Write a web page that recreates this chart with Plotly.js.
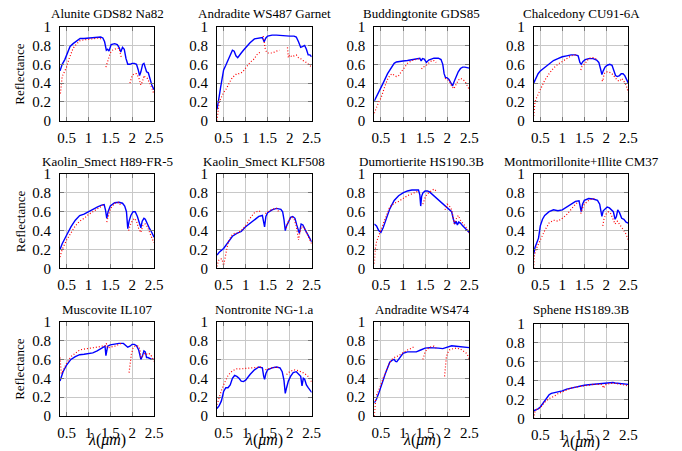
<!DOCTYPE html>
<html><head><meta charset="utf-8">
<script src="https://cdn.plot.ly/plotly-3.0.1.min.js"></script>
<style>html,body{margin:0;padding:0;background:#fff}#plot{width:682px;height:451px}</style>
</head><body>
<div id="plot"></div>
<script>
// ---------- DATA ----------
const titles = ["Alunite GDS82 Na82","Andradite WS487 Garnet","Buddingtonite GDS85","Chalcedony CU91-6A",
  "Kaolin_Smect H89-FR-5","Kaolin_Smect KLF508","Dumortierite HS190.3B","Montmorillonite+Illite CM37",
  "Muscovite IL107","Nontronite NG-1.a","Andradite WS474","Sphene HS189.3B"];
const xTickVals = [0.5,1,1.5,2,2.5];
const xTickText = ["0.5","1","1.5","2","2.5"];
const yTickVals = [0,0.2,0.4,0.6,0.8,1];
const yTickText = ["0","0.2","0.4","0.6","0.8","1"];

// Alunite
const aluBx = [0.35,0.4,0.46,0.52,0.58,0.65,0.73,0.81,0.9,1.0,1.1,1.2,1.28,1.33,1.37,1.41,1.44,1.47,1.52,1.6,1.66,1.7,1.74,1.78,1.82,1.86,1.9,1.95,2.0,2.05,2.1,2.14,2.17,2.2,2.24,2.27,2.3,2.33,2.37,2.4,2.45,2.5];
const aluBy = [0.53,0.6,0.65,0.72,0.79,0.82,0.85,0.875,0.875,0.88,0.885,0.89,0.89,0.88,0.84,0.75,0.76,0.74,0.81,0.82,0.81,0.78,0.73,0.78,0.76,0.66,0.6,0.6,0.61,0.61,0.6,0.54,0.48,0.52,0.6,0.61,0.56,0.52,0.51,0.45,0.38,0.33];
const aluRx = [0.36,0.38,0.4,0.45,0.5,0.55,0.6,0.65,0.7,0.8,0.9,1.0,1.1,1.2,1.25,1.3,1.35,1.4,1.42,1.45,1.5,1.55,1.6,1.65,1.7,1.73,1.76,1.85,1.95,2.0,2.05,2.1,2.15,2.2,2.24,2.27,2.3,2.35,2.4,2.45,2.5];
const aluRy = [0.29,0.4,0.47,0.52,0.57,0.65,0.72,0.77,0.8,0.85,0.86,0.865,0.87,0.875,0.88,0.865,null,0.57,0.6,0.62,0.72,0.75,0.76,0.77,0.77,0.72,0.66,null,0.4,0.48,0.5,0.5,0.46,0.38,0.42,0.48,0.46,0.45,0.4,0.35,0.28];
// Andradite WS487
const an1Bx = [0.35,0.37,0.4,0.43,0.47,0.5,0.55,0.6,0.65,0.7,0.74,0.78,0.82,0.86,0.9,0.95,1.0,1.1,1.2,1.3,1.38,1.42,1.46,1.5,1.6,1.7,1.8,1.9,2.0,2.1,2.15,2.2,2.25,2.3,2.34,2.38,2.42,2.46,2.5];
const an1By = [0.12,0.2,0.26,0.35,0.45,0.54,0.59,0.64,0.7,0.75,0.74,0.69,0.67,0.69,0.72,0.75,0.78,0.83,0.87,0.88,0.885,0.84,0.88,0.9,0.91,0.91,0.905,0.9,0.9,0.9,0.89,0.84,0.78,0.79,0.8,0.76,0.7,0.7,0.68];
const an1Rx = [0.35,0.37,0.4,0.45,0.5,0.55,0.6,0.65,0.7,0.75,0.8,0.85,0.9,0.95,1.0,1.05,1.1,1.15,1.2,1.25,1.3,1.33,1.36,1.4,1.42,1.45,1.5,1.6,1.7,1.77,1.85,1.95,1.97,2.0,2.05,2.1,2.15,2.2,2.25,2.3,2.35,2.4,2.45,2.5];
const an1Ry = [0.0,0.12,0.2,0.25,0.3,0.33,0.38,0.42,0.46,0.48,0.5,0.5,0.51,0.53,0.56,0.6,0.62,0.64,0.66,0.7,0.72,0.73,null,0.9,0.85,0.75,0.72,0.72,0.74,0.75,null,0.78,0.67,0.7,0.68,0.69,0.7,0.67,0.66,0.64,0.63,0.61,0.59,0.57];
// Buddingtonite
const budBx = [0.35,0.45,0.55,0.65,0.75,0.8,0.85,0.9,1.0,1.1,1.2,1.3,1.38,1.41,1.44,1.48,1.53,1.58,1.65,1.7,1.8,1.86,1.9,1.93,1.96,2.0,2.04,2.08,2.12,2.16,2.2,2.25,2.3,2.35,2.4,2.45,2.5];
const budBy = [0.21,0.3,0.4,0.5,0.58,0.61,0.625,0.63,0.635,0.64,0.65,0.655,0.665,0.635,0.66,0.655,0.62,0.645,0.655,0.665,0.665,0.65,0.6,0.5,0.46,0.455,0.44,0.4,0.37,0.42,0.47,0.52,0.555,0.57,0.57,0.565,0.56];
const budRx = [0.35,0.4,0.45,0.5,0.55,0.6,0.65,0.7,0.75,0.8,0.85,0.9,1.0,1.1,1.2,1.3,1.37,1.39,1.42,1.45,1.5,1.55,1.6,1.65,1.7,1.75,1.85,1.95,2.0,2.05,2.1,2.15,2.2,2.25,2.3,2.35,2.4,2.45,2.5];
const budRy = [0.08,0.15,0.2,0.24,0.32,0.38,0.44,0.48,0.5,0.48,0.47,0.48,0.55,0.61,0.64,0.655,0.66,null,0.55,0.57,0.58,0.6,0.62,0.64,0.64,0.62,null,0.45,0.44,0.42,0.37,0.34,0.39,0.43,0.45,0.44,0.42,0.38,0.33];
// Chalcedony
const chaBx = [0.35,0.4,0.45,0.5,0.6,0.7,0.8,0.9,1.0,1.1,1.2,1.3,1.36,1.4,1.43,1.47,1.52,1.6,1.7,1.78,1.83,1.87,1.9,1.93,1.97,2.02,2.08,2.13,2.17,2.21,2.25,2.3,2.34,2.38,2.42,2.46,2.5];
const chaBy = [0.4,0.46,0.5,0.53,0.57,0.6,0.64,0.66,0.68,0.69,0.7,0.7,0.69,0.62,0.6,0.63,0.65,0.66,0.66,0.645,0.62,0.55,0.49,0.53,0.57,0.59,0.6,0.59,0.53,0.48,0.47,0.48,0.5,0.5,0.48,0.44,0.4];
const chaRx = [0.35,0.36,0.38,0.42,0.46,0.5,0.55,0.6,0.7,0.8,0.9,1.0,1.1,1.2,1.3,1.35,1.38,1.42,1.45,1.5,1.55,1.6,1.65,1.7,1.75,1.8,1.85,1.9,1.92,1.95,2.0,2.05,2.1,2.15,2.2,2.25,2.3,2.35,2.4,2.45,2.5];
const chaRy = [0.05,0.15,0.2,0.25,0.3,0.33,0.38,0.43,0.5,0.56,0.6,0.63,0.66,0.69,0.7,0.7,null,0.54,0.58,0.6,0.63,0.66,0.67,0.67,0.66,0.65,null,0.43,0.42,0.5,0.52,0.52,0.51,0.49,0.46,0.43,0.42,0.45,0.42,0.38,0.3];
// Kaolin_Smect H89-FR-5
const kahBx = [0.35,0.4,0.5,0.6,0.7,0.8,0.9,1.0,1.1,1.2,1.3,1.36,1.39,1.42,1.45,1.5,1.6,1.7,1.78,1.83,1.87,1.9,1.93,1.97,2.02,2.07,2.12,2.16,2.2,2.23,2.27,2.3,2.35,2.4,2.45,2.5];
const kahBy = [0.2,0.26,0.35,0.44,0.51,0.56,0.575,0.6,0.63,0.65,0.67,0.675,0.62,0.53,0.6,0.66,0.695,0.7,0.69,0.66,0.6,0.42,0.5,0.56,0.6,0.6,0.55,0.5,0.43,0.5,0.53,0.52,0.46,0.42,0.38,0.33];
const kahRx = [0.35,0.4,0.5,0.6,0.7,0.8,0.9,1.0,1.1,1.2,1.3,1.34,1.38,1.42,1.45,1.5,1.6,1.7,1.75,1.8,1.92,1.95,2.0,2.05,2.1,2.15,2.2,2.25,2.3,2.35,2.4,2.45,2.5];
const kahRy = [0.12,0.2,0.3,0.38,0.45,0.5,0.53,0.57,0.6,0.63,0.66,0.67,null,0.49,0.55,0.63,0.69,0.7,0.66,null,0.4,0.45,0.5,0.53,0.5,0.42,0.38,0.46,0.47,0.44,0.38,0.33,0.27];
// Kaolin_Smect KLF508
const kakBx = [0.35,0.4,0.5,0.6,0.7,0.8,0.9,1.0,1.1,1.2,1.3,1.38,1.41,1.43,1.46,1.5,1.6,1.7,1.8,1.84,1.87,1.9,1.93,1.97,2.02,2.07,2.12,2.16,2.19,2.22,2.26,2.3,2.35,2.4,2.45,2.5];
const kakBy = [0.14,0.17,0.21,0.27,0.34,0.37,0.39,0.44,0.48,0.52,0.55,0.56,0.5,0.44,0.55,0.59,0.62,0.635,0.625,0.6,0.52,0.4,0.45,0.5,0.54,0.55,0.53,0.46,0.4,0.37,0.47,0.46,0.41,0.37,0.33,0.28];
const kakRx = [0.35,0.38,0.42,0.46,0.5,0.53,0.56,0.6,0.65,0.7,0.75,0.8,0.9,1.0,1.1,1.2,1.25,1.3,1.34,1.4,1.45,1.5,1.6,1.7,1.75,1.8,1.92,1.95,2.0,2.05,2.1,2.15,2.2,2.23,2.27,2.3,2.35,2.4,2.45,2.5];
const kakRy = [0.02,0.08,0.1,0.1,0.03,0.1,0.18,0.27,0.32,0.36,0.37,0.37,0.4,0.45,0.53,0.59,0.6,0.61,0.6,null,0.58,0.6,0.625,0.635,0.6,null,0.43,0.48,0.52,0.54,0.52,0.45,0.3,0.38,0.44,0.44,0.41,0.36,0.31,0.26];
// Dumortierite
const dumBx = [0.35,0.4,0.45,0.5,0.55,0.6,0.65,0.7,0.8,0.9,1.0,1.1,1.2,1.3,1.35,1.38,1.4,1.42,1.45,1.5,1.55,1.6,1.7,1.8,1.9,2.0,2.05,2.1,2.14,2.17,2.2,2.23,2.26,2.3,2.35,2.4,2.45,2.5];
const dumBy = [0.47,0.45,0.4,0.38,0.43,0.5,0.57,0.63,0.72,0.77,0.8,0.82,0.83,0.835,0.83,0.78,0.66,0.76,0.8,0.82,0.82,0.81,0.77,0.73,0.68,0.65,0.63,0.6,0.52,0.47,0.5,0.46,0.49,0.48,0.45,0.43,0.41,0.38];
const dumRx = [0.35,0.37,0.4,0.45,0.5,0.55,0.6,0.65,0.7,0.8,0.9,1.0,1.1,1.2,1.3,1.35,1.4,1.45,1.5,1.55,1.6,1.65,1.7,1.75,1.8,1.95,2.0,2.05,2.1,2.13,2.16,2.2,2.25,2.3,2.35,2.4,2.45,2.5];
const dumRy = [0.05,0.2,0.28,0.35,0.4,0.47,0.53,0.6,0.65,0.69,0.71,0.74,0.77,0.79,0.81,0.82,null,0.68,0.75,0.79,0.81,0.82,0.84,0.82,null,0.62,0.68,0.66,0.62,0.55,0.47,0.52,0.56,0.51,0.48,0.45,0.42,0.37];
// Montmorillonite+Illite
const monBx = [0.35,0.38,0.42,0.46,0.5,0.55,0.6,0.7,0.8,0.9,1.0,1.1,1.2,1.3,1.38,1.41,1.43,1.46,1.5,1.6,1.7,1.8,1.85,1.88,1.9,1.93,1.97,2.02,2.07,2.12,2.16,2.2,2.23,2.26,2.3,2.35,2.4,2.45,2.5];
const monBy = [0.15,0.22,0.27,0.32,0.45,0.52,0.56,0.6,0.62,0.61,0.62,0.65,0.68,0.71,0.715,0.63,0.6,0.68,0.72,0.74,0.735,0.72,0.68,0.6,0.55,0.61,0.63,0.65,0.64,0.62,0.6,0.52,0.55,0.62,0.59,0.53,0.52,0.49,0.48];
const monRx = [0.35,0.36,0.4,0.45,0.5,0.6,0.7,0.75,0.8,0.9,1.0,1.1,1.2,1.3,1.35,1.38,1.42,1.45,1.5,1.6,1.7,1.75,1.8,1.92,1.95,2.0,2.05,2.1,2.15,2.2,2.25,2.3,2.35,2.4,2.45,2.5];
const monRy = [0.0,0.12,0.2,0.25,0.3,0.4,0.48,0.5,0.51,0.5,0.53,0.57,0.63,0.68,0.7,null,0.58,0.63,0.68,0.72,0.74,0.73,null,0.45,0.53,0.58,0.6,0.58,0.52,0.47,0.5,0.47,0.44,0.4,0.36,0.3];
// Muscovite
const musBx = [0.35,0.38,0.42,0.5,0.6,0.7,0.8,0.9,1.0,1.1,1.2,1.3,1.38,1.4,1.42,1.44,1.5,1.6,1.7,1.8,1.85,1.9,1.95,2.0,2.05,2.1,2.15,2.18,2.2,2.23,2.27,2.3,2.33,2.36,2.4,2.45,2.5];
const musBy = [0.37,0.42,0.47,0.54,0.6,0.63,0.65,0.655,0.66,0.67,0.69,0.72,0.74,0.64,0.7,0.74,0.755,0.765,0.77,0.77,0.75,0.73,0.74,0.76,0.76,0.745,0.7,0.62,0.6,0.63,0.69,0.68,0.62,0.62,0.61,0.6,0.6];
const musRx = [0.35,0.36,0.38,0.42,0.5,0.6,0.7,0.8,0.9,1.0,1.1,1.2,1.3,1.38,1.41,1.44,1.5,1.6,1.7,1.75,1.8,1.93,1.95,1.98,2.02,2.06,2.1,2.15,2.18,2.2,2.25,2.3,2.35,2.4,2.45,2.5];
const musRy = [0.62,0.5,0.45,0.48,0.56,0.63,0.67,0.7,0.71,0.715,0.72,0.73,0.74,0.745,0.77,0.72,0.73,0.74,0.76,0.77,null,0.46,0.55,0.65,0.72,0.74,0.745,0.74,0.7,0.62,0.64,0.67,0.65,0.66,0.63,0.58];
// Nontronite
const nonBx = [0.35,0.4,0.45,0.5,0.55,0.6,0.65,0.7,0.75,0.8,0.85,0.9,0.95,1.0,1.1,1.2,1.3,1.38,1.41,1.43,1.46,1.5,1.6,1.7,1.78,1.83,1.87,1.9,1.93,1.97,2.02,2.08,2.15,2.2,2.25,2.28,2.31,2.34,2.38,2.42,2.46,2.5];
const nonBy = [0.08,0.11,0.16,0.26,0.3,0.3,0.33,0.4,0.43,0.42,0.4,0.37,0.365,0.38,0.44,0.49,0.52,0.51,0.42,0.39,0.45,0.49,0.51,0.52,0.51,0.47,0.38,0.24,0.3,0.37,0.42,0.46,0.47,0.45,0.42,0.32,0.4,0.39,0.33,0.3,0.28,0.25];
const nonRx = [0.35,0.4,0.45,0.5,0.55,0.6,0.7,0.8,0.9,1.0,1.1,1.2,1.3,1.35,1.4,1.45,1.5,1.6,1.7,1.75,1.8,1.93,1.95,2.0,2.1,2.2,2.3,2.4,2.45,2.5];
const nonRy = [0.12,0.2,0.27,0.33,0.38,0.43,0.48,0.5,0.5,0.505,0.51,0.515,0.52,0.52,null,0.49,0.5,0.51,0.52,0.51,null,0.44,0.45,0.47,0.49,0.48,0.46,0.43,0.4,0.36];
// Andradite WS474
const an2Bx = [0.35,0.4,0.45,0.5,0.55,0.6,0.65,0.7,0.75,0.8,0.83,0.86,0.9,0.95,1.0,1.1,1.2,1.3,1.4,1.5,1.6,1.7,1.8,1.9,2.0,2.1,2.2,2.3,2.4,2.5];
const an2By = [0.14,0.18,0.24,0.3,0.38,0.45,0.52,0.57,0.59,0.6,0.58,0.575,0.6,0.64,0.665,0.68,0.68,0.68,0.7,0.72,0.725,0.725,0.72,0.715,0.73,0.745,0.74,0.735,0.73,0.725];
const an2Rx = [0.35,0.36,0.38,0.4,0.45,0.5,0.55,0.6,0.65,0.7,0.75,0.8,0.9,1.0,1.1,1.2,1.25,1.3,1.45,1.5,1.55,1.6,1.7,1.75,1.8,1.94,1.96,1.98,2.0,2.05,2.1,2.2,2.3,2.4,2.45,2.5];
const an2Ry = [0.0,0.1,0.17,0.22,0.27,0.33,0.4,0.46,0.52,0.57,0.6,0.62,0.64,0.67,0.7,0.72,0.735,null,0.6,0.68,0.71,0.73,0.74,0.72,null,0.42,0.55,0.62,0.66,0.7,0.71,0.72,0.71,0.68,0.66,0.6];
// Sphene
const sphBx = [0.35,0.4,0.45,0.5,0.55,0.6,0.65,0.7,0.75,0.8,0.9,1.0,1.1,1.2,1.3,1.4,1.5,1.6,1.7,1.8,1.9,2.0,2.1,2.15,2.2,2.3,2.4,2.5];
const sphBy = [0.08,0.09,0.1,0.12,0.15,0.19,0.22,0.25,0.265,0.27,0.28,0.29,0.31,0.32,0.335,0.34,0.35,0.355,0.36,0.36,0.365,0.37,0.375,0.38,0.375,0.37,0.37,0.36];
const sphRx = [0.35,0.37,0.4,0.45,0.5,0.55,0.6,0.7,0.8,0.9,1.0,1.1,1.2,1.3,1.4,1.5,1.6,1.7,1.8,1.9,1.94,1.97,2.0,2.1,2.2,2.3,2.4,2.45,2.5];
const sphRy = [0.0,0.06,0.09,0.1,0.11,0.14,0.17,0.21,0.23,0.26,0.28,0.3,0.32,0.33,0.34,0.345,0.35,0.36,0.36,0.36,0.32,0.35,0.36,0.37,0.37,0.36,0.355,0.35,0.33];

const series = [
  [aluBx,aluBy,aluRx,aluRy],[an1Bx,an1By,an1Rx,an1Ry],[budBx,budBy,budRx,budRy],[chaBx,chaBy,chaRx,chaRy],
  [kahBx,kahBy,kahRx,kahRy],[kakBx,kakBy,kakRx,kakRy],[dumBx,dumBy,dumRx,dumRy],[monBx,monBy,monRx,monRy],
  [musBx,musBy,musRx,musRy],[nonBx,nonBy,nonRx,nonRy],[an2Bx,an2By,an2Rx,an2Ry],[sphBx,sphBy,sphRx,sphRy]
];

// ---------- LAYOUT ----------
const W = 682, H = 451;
const colL = [60, 217, 374.3, 533.7], colR = [154, 311.7, 469.3, 628.3];
const rowT = [26.7, 174, 321.7], rowB = [120.7, 268.3, 416];
const titleY = [13.5, 161.5, 309];
const FAM = "Liberation Serif";

const data = [];
const layout = {
  width: W, height: H, margin: {l:0, r:0, t:0, b:0},
  paper_bgcolor: "#fff", plot_bgcolor: "#fff", showlegend: false,
  annotations: []
};

series.forEach((s, i) => {
  const c = i % 4, r = Math.floor(i / 4);
  let top = rowT[r], bot = rowB[r];
  if (i === 11) { top += 2.3; bot += 2.3; }
  const n = i + 1;
  const xa = "x" + (n === 1 ? "" : n), ya = "y" + (n === 1 ? "" : n);
  data.push({x: s[0], y: s[1], xaxis: xa, yaxis: ya, type: "scatter", mode: "lines",
    line: {color: "#0000ff", width: 1.4}, hoverinfo: "skip"});
  data.push({x: s[2], y: s[3], xaxis: xa, yaxis: ya, type: "scatter", mode: "lines", connectgaps: false,
    line: {color: "#ff0000", width: 1.2, dash: "1px,2px"}, hoverinfo: "skip"});
  const common = {showline: true, linecolor: "#000", linewidth: 1, mirror: "ticks",
    ticks: "inside", ticklen: 4, tickcolor: "#777", tickwidth: 1,
    showgrid: true, gridcolor: "#c8c8c8", gridwidth: 1, zeroline: false, fixedrange: true,
    tickfont: {family: FAM, size: 15, color: "black"}};
  layout["xaxis" + (n === 1 ? "" : n)] = Object.assign({}, common, {
    domain: [colL[c] / W, colR[c] / W], anchor: ya, range: [0.35, 2.5], ticklabelstandoff: 3,
    tickmode: "array", tickvals: xTickVals, ticktext: xTickText});
  layout["yaxis" + (n === 1 ? "" : n)] = Object.assign({}, common, {
    domain: [1 - bot / H, 1 - top / H], anchor: xa, range: [0, 1], ticklabelstandoff: 5,
    tickmode: "array", tickvals: yTickVals, ticktext: yTickText});
  layout.annotations.push({text: titles[i], xref: "paper", yref: "paper",
    x: (colL[c] + colR[c]) / 2 / W, y: 1 - titleY[r] / H, xanchor: "center", yanchor: "middle",
    showarrow: false, font: {family: FAM, size: 13, color: "black"}});
  if (c === 0) {
    layout.annotations.push({text: "Reflectance", xref: "paper", yref: "paper",
      x: 20 / W, y: 1 - (top + bot) / 2 / H, xanchor: "center", yanchor: "middle", textangle: -90,
      showarrow: false, font: {family: FAM, size: 13, color: "black"}});
  }
  if (r === 2) {
    layout.annotations.push({text: "<i>λ</i>(<i>μm</i>)", xref: "paper", yref: "paper",
      x: (colL[c] + colR[c]) / 2 / W, y: 1 - (i === 11 ? 441.5 : 440) / H, xanchor: "center", yanchor: "middle",
      showarrow: false, font: {family: FAM, size: 16, color: "black"}});
  }
});

Plotly.newPlot("plot", data, layout, {displayModeBar: false, staticPlot: true});
</script>
</body></html>
